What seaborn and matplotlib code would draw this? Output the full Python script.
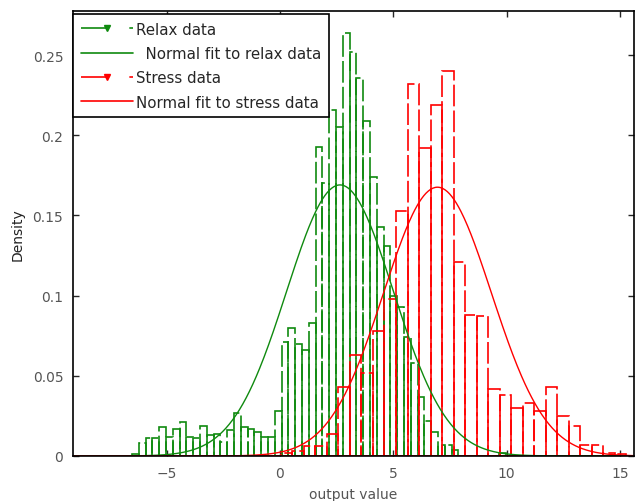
import numpy as np
import pandas as pd
import matplotlib
matplotlib.use("Agg")
import matplotlib.pyplot as plt
from matplotlib.lines import Line2D
import seaborn as sns

# Relax data histogram (green): first bin edge, bin width, density per bin
relax_start = -6.53
relax_width = 0.3
relax_density = [
    0.001, 0.008, 0.011, 0.011, 0.018, 0.012, 0.017, 0.021, 0.012, 0.011,
    0.019, 0.013, 0.014, 0.009, 0.016, 0.027, 0.018, 0.017, 0.015, 0.012,
    0.012, 0.028, 0.071, 0.080, 0.070, 0.066, 0.083, 0.193, 0.170, 0.216,
    0.205, 0.264, 0.252, 0.236, 0.209, 0.174, 0.143, 0.131, 0.100, 0.093,
    0.074, 0.058, 0.037, 0.022, 0.015, 0.007, 0.007, 0.004, 0.0, 0.0,
    0.0, 0.0, 0.0, 0.0, 0.002, 0.0, 0.0, 0.0, 0.0, 0.0,
    0.0, 0.0, 0.0, 0.0, 0.0, 0.0, 0.0, 0.0, 0.0, 0.0,
    0.0, 0.0, 0.0, 0.0,
]

# Stress data histogram (red)
stress_start = -9.104
stress_width = 0.508
stress_density = [
    0.0, 0.0, 0.0, 0.0, 0.0, 0.0, 0.0, 0.0, 0.0, 0.0,
    0.0, 0.0, 0.0, 0.0, 0.0, 0.0, 0.0, 0.0,
    0.002, 0.003, 0.006, 0.006, 0.014, 0.043, 0.063, 0.052, 0.078, 0.098,
    0.153, 0.232, 0.192, 0.219, 0.240, 0.121, 0.088, 0.087, 0.042, 0.038,
    0.030, 0.033, 0.028, 0.043, 0.025, 0.019, 0.007, 0.007, 0.002, 0.001,
    0.0,
]

# Normal fit parameters (mean, std)
relax_mu, relax_sigma = 2.65, 2.36
stress_mu, stress_sigma = 6.95, 2.38

x_min, x_max = -9.13, 15.62
y_max = 0.2775
xticks = [-5, 0, 5, 10, 15]
yticks = [0, 0.05, 0.1, 0.15, 0.2, 0.25]
ytick_labels = ["0", "0.05", "0.1", "0.15", "0.2", "0.25"]

green = "#0f8a0f"
red = "#ff0000"

sns.set_style("ticks")
plt.rcParams["font.family"] = ["DejaVu Sans"]

fig = plt.figure(figsize=(6.36, 5.02), dpi=100)
ax = fig.add_axes([73 / 636, 1 - 457 / 502, (634 - 73) / 636, (457 - 12) / 502])


def normal_pdf(x, mu, sigma):
    return np.exp(-0.5 * ((x - mu) / sigma) ** 2) / (sigma * np.sqrt(2 * np.pi))


def hist_frame(start, width, dens):
    edges = start + width * np.arange(len(dens) + 1)
    df = pd.DataFrame({"center": edges[:-1] + width / 2, "density": dens})
    return df, [float(e) for e in edges]


xs = np.linspace(x_min, x_max, 500)
dash = (0, (13, 2.5))

relax_df, r_edges = hist_frame(relax_start, relax_width, relax_density)
sns.histplot(data=relax_df, x="center", weights="density", bins=r_edges,
             stat="count", element="bars", fill=False, color=green,
             linewidth=1.2, linestyle=dash, ax=ax)
sns.lineplot(x=xs, y=normal_pdf(xs, relax_mu, relax_sigma), color=green,
             linewidth=1.0, ax=ax)

stress_df, s_edges = hist_frame(stress_start, stress_width, stress_density)
sns.histplot(data=stress_df, x="center", weights="density", bins=s_edges,
             stat="count", element="bars", fill=False, color=red,
             linewidth=1.2, linestyle=dash, ax=ax)
sns.lineplot(x=xs, y=normal_pdf(xs, stress_mu, stress_sigma), color=red,
             linewidth=1.0, ax=ax)

ax.set_xlim(x_min, x_max)
ax.set_ylim(0, y_max)
ax.set_xticks(xticks)
ax.set_yticks(yticks)
ax.set_yticklabels(ytick_labels)
ax.tick_params(direction="in", top=True, right=True, length=4, width=1,
               labelsize=10, labelcolor="#555555", pad=7)
for s in ax.spines.values():
    s.set_visible(True)
    s.set_color("black")
    s.set_linewidth(1.2)
ax.set_xlabel("output value", fontsize=10, color="#555555", labelpad=5)
ax.set_ylabel("Density", fontsize=10, color="#222222", labelpad=6)

handles = [
    Line2D([], [], color=green, lw=1.2, marker="v", markersize=4,
           dashes=(16, 13, 2.5, 40)),
    Line2D([], [], color=green, lw=1.2),
    Line2D([], [], color=red, lw=1.2, marker="v", markersize=4,
           dashes=(16, 13, 2.5, 40)),
    Line2D([], [], color=red, lw=1.2),
]
labels = ["Relax data", "  Normal fit to relax data", "Stress data",
          "Normal fit to stress data"]
leg = ax.legend(handles, labels, loc="upper left", bbox_to_anchor=(0, 0.993),
                borderaxespad=0, fontsize=10.8, handlelength=3.5,
                handletextpad=0.2, labelspacing=0.62, numpoints=1,
                frameon=True, fancybox=False, borderpad=0.5)
leg.get_frame().set_edgecolor("black")
leg.get_frame().set_linewidth(1.2)
leg.get_frame().set_alpha(1)

fig.savefig("out.png", dpi=100)
